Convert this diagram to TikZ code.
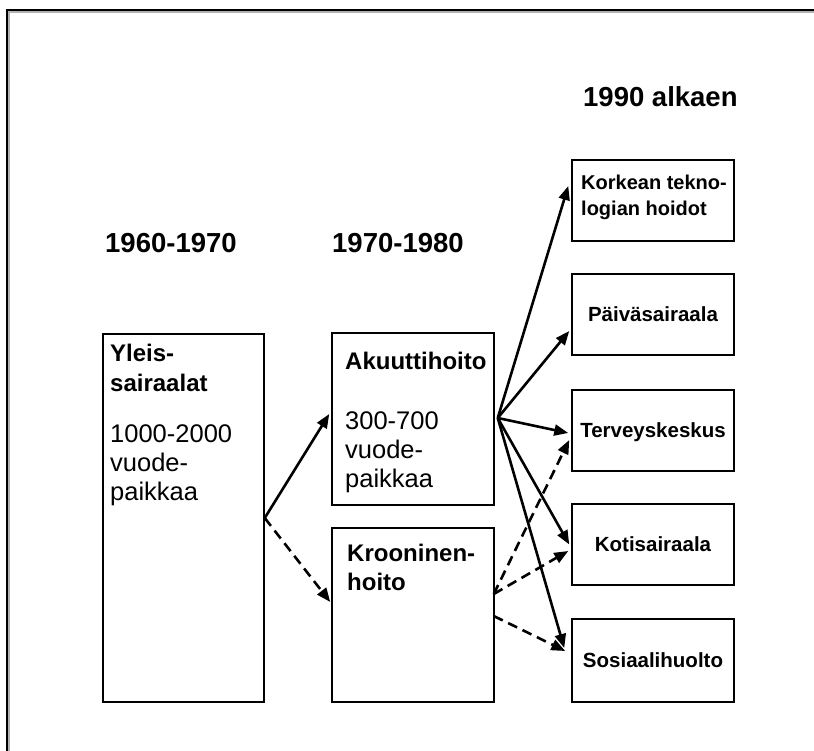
\documentclass[tikz,border=0pt]{standalone}
\usepackage{fontspec}
\setmainfont{Liberation Sans}
\usetikzlibrary{arrows.meta,calc}

\tikzset{
  box/.style={draw=black, line width=1.5pt, rectangle, inner sep=0pt},
  rbox/.style={box, minimum width=162pt, minimum height=81pt},
  head/.style={anchor=base west, inner sep=0pt, font=\fontsize{27.5}{32}\selectfont\bfseries},
  mtxt/.style={anchor=base west, inner sep=0pt, font=\fontsize{25.5}{29}\selectfont},
  mbold/.style={mtxt, font=\fontsize{24}{29}\selectfont\bfseries},
  rtxt/.style={anchor=base, inner sep=0pt, font=\fontsize{20.5}{24}\selectfont\bfseries},
  ktxt/.style={anchor=base west, inner sep=0pt, font=\fontsize{20}{24}\selectfont\bfseries},
  flow/.style={line width=2.6pt, -{Triangle[length=14pt,width=11pt]}},
  dflow/.style={flow, dash pattern=on 10pt off 6pt},
}

\begin{document}
\begin{tikzpicture}[x=1pt,y=-1pt]
  \useasboundingbox (0,0) rectangle (814,751);

  % page frame (left and top edges only)
  \draw[gray!60, line width=1.2pt] (9,751) -- (9,12) -- (814,12);
  \draw[black, line width=1.4pt] (7,751) -- (7,10) -- (814,10);

  % column headings
  \node[head] (h1) at (105,253) {1960-1970};
  \node[head] (h2) at (332,253) {1970-1980};
  \node[head] (h3) at (583,107) {1990 alkaen};

  % boxes
  \node[box, minimum width=161pt, minimum height=368pt] (yl) at (183.5,518) {};
  \node[box, minimum width=162pt, minimum height=172pt] (ak) at (413,419) {};
  \node[box, minimum width=162pt, minimum height=174pt] (kr) at (413,615) {};
  \node[rbox] (ko) at (653,200.5) {};
  \node[rbox] (pa) at (653,314.5) {};
  \node[rbox] (te) at (653,430.5) {};
  \node[rbox] (kt) at (653,544.5) {};
  \node[rbox, minimum height=83pt] (so) at (653,660.5) {};

  % box texts
  \node[mbold] (yt1) at (110,362) {Yleis-};
  \node[mbold] (yt2) at (110,391) {sairaalat};
  \node[mtxt]  (yt3) at (110,442) {1000-2000};
  \node[mtxt]  (yt4) at (110,471) {vuode-};
  \node[mtxt]  (yt5) at (110,500) {paikkaa};

  \node[mbold] (at1) at (345,369) {Akuuttihoito};
  \node[mtxt]  (at2) at (345,429) {300-700};
  \node[mtxt]  (at3) at (345,458) {vuode-};
  \node[mtxt]  (at4) at (345,487) {paikkaa};

  \node[mbold] (kt1) at (347,561) {Krooninen-};
  \node[mbold] (kt2) at (347,590) {hoito};

  \node[ktxt] (ko1) at (581,190) {Korkean tekno-};
  \node[ktxt] (ko2) at (581,216) {logian hoidot};
  \node[rtxt] (pat) at ($(pa.center)+(0,7)$) {Päiväsairaala};
  \node[rtxt] (tet) at ($(te.center)+(0,7)$) {Terveyskeskus};
  \node[rtxt] (ktt) at ($(kt.center)+(0,7)$) {Kotisairaala};
  \node[rtxt] (sot) at ($(so.center)+(0,7)$) {Sosiaalihuolto};

  % connector origins
  \coordinate (fan) at ($(ak.east)+(3,-1)$);
  \coordinate (kra) at ($(kr.east)+(-1,-21)$);
  \coordinate (krb) at ($(kr.east)+(-1,1)$);

  % connectors
  \draw[flow]  (yl.east) -- ($(ak.west)+(-2,-5)$);
  \draw[dflow] (yl.east) -- ($(kr.west)+(-1,-13)$);

  \draw[flow] (fan) -- ($(ko.west)+(-3,-14.5)$);
  \draw[flow] (fan) -- ($(pa.west)+(-2,16.5)$);
  \draw[flow] (fan) -- ($(te.west)+(-3,2.5)$);
  \draw[flow] (fan) -- ($(kt.west)+(-2,0)$);
  \draw[flow] (fan) -- ($(so.west)+(-7,-12.5)$);

  \draw[dflow] (kra) -- ($(te.west)+(-2,9.5)$);
  \draw[dflow] (kra) -- ($(kt.west)+(-3,6.5)$);
  \draw[dflow] (krb) -- ($(so.west)+(-6,-9.5)$);
\end{tikzpicture}
\end{document}
